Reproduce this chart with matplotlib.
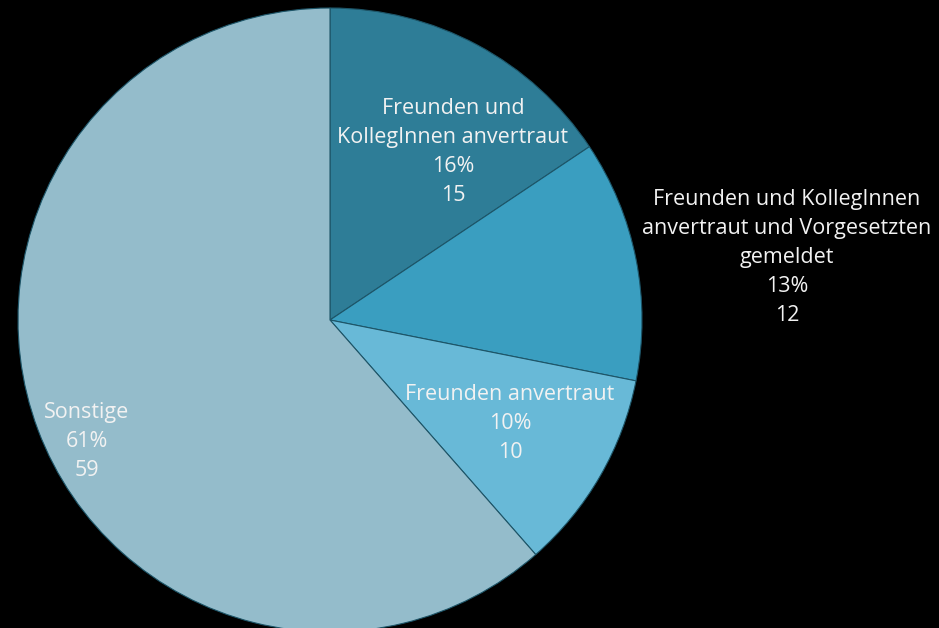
import matplotlib.pyplot as plt

labels = ["Freunden und\nKollegInnen anvertraut",
          "Freunden und KollegInnen\nanvertraut und Vorgesetzten\ngemeldet",
          "Freunden anvertraut",
          "Sonstige"]
counts = [15, 12, 10, 59]
percents = ["16%", "13%", "10%", "61%"]
colors = ["#2e7d97", "#3a9ec0", "#68b9d7", "#94bccb"]

plt.rcParams['font.family'] = ['Open Sans', 'DejaVu Sans']

fig = plt.figure(figsize=(9.39, 6.28), dpi=100, facecolor='black')
# pie centre at (330, 320) px, radius 312 px
ax = fig.add_axes([(330 - 312) / 939, (628 - 320 - 312) / 628, 624 / 939, 624 / 628])
ax.set_facecolor('black')

wedges, _ = ax.pie(counts, colors=colors, startangle=90, counterclock=False,
                   radius=1, wedgeprops=dict(edgecolor='#1d5568', linewidth=0.8))
ax.set_xlim(-1, 1)
ax.set_ylim(-1, 1)
ax.set_aspect('equal')
ax.axis('off')

# label anchors in data units
label_pos = [(0.394, 0.538), (1.465, 0.199), (0.577, -0.333), (-0.779, -0.388)]
for (x, y), lab, pct, n in zip(label_pos, labels, percents, counts):
    ax.text(x, y, f"{lab}\n{pct}\n{n}", ha='center', va='center', color='#f2f2f2',
            fontsize=15.5, linespacing=1.5, clip_on=False)

plt.savefig('out.png', dpi=100, facecolor='black')
plt.close()
